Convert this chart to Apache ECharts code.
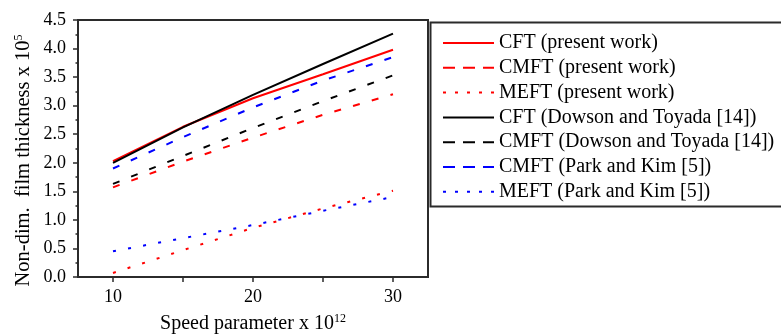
<!DOCTYPE html>
<html>
<head>
<meta charset="utf-8">
<script src="https://cdn.jsdelivr.net/npm/echarts@6/dist/echarts.min.js"></script>
<style>
html,body{margin:0;padding:0;background:#fff;}
#chart{width:781px;height:334px;}
</style>
</head>
<body>
<div id="chart"></div>
<script>
// ---- data ----
const speedValues = [10, 15, 20, 25, 30];
const cftPresent = [2.03, 2.63, 3.13, 3.55, 3.98];
const cmftPresent = [1.57, 2.02, 2.44, 2.84, 3.20];
const meftPresent = [0.07, 0.47, 0.86, 1.20, 1.51];
const cftDowson = [2.00, 2.62, 3.19, 3.73, 4.26];
const cmftDowson = [1.63, 2.12, 2.61, 3.08, 3.53];
const cmftPark = [1.90, 2.45, 2.97, 3.44, 3.85];
const meftPark = [0.45, 0.68, 0.91, 1.16, 1.40];
const seriesNames = [
  'CFT (present work)',
  'CMFT (present work)',
  'MEFT (present work)',
  'CFT (Dowson and Toyada [14])',
  'CMFT (Dowson and Toyada [14])',
  'CMFT (Park and Kim [5])',
  'MEFT (Park and Kim [5])'
];
const xTickValues = [10, 15, 20, 25, 30];
const xLabelValues = [10, 20, 30];

// ---- styles ----
const FONT = "'Liberation Serif', 'Times New Roman', serif";
const DASH = [7, 12.5];
const DOT = [3, 12.3];
const LEG_DASH = [12, 8];
const LEG_DOT = [3, 9];
const styles = [
  {color: '#ff0000', type: 'solid', leg: 'solid'},
  {color: '#ff0000', type: DASH, leg: LEG_DASH},
  {color: '#ff0000', type: DOT, leg: LEG_DOT},
  {color: '#000000', type: 'solid', leg: 'solid'},
  {color: '#000000', type: DASH, leg: LEG_DASH},
  {color: '#0000ff', type: DASH, leg: LEG_DASH},
  {color: '#0000ff', type: DOT, leg: LEG_DOT}
];
const values = [cftPresent, cmftPresent, meftPresent, cftDowson, cmftDowson, cmftPark, meftPark];

const pair = arr => speedValues.map((x, i) => [x, arr[i]]);

const chart = echarts.init(document.getElementById('chart'), null, {renderer: 'canvas'});
const axisColor = '#2b2b2b';
chart.setOption({
  animation: false,
  backgroundColor: '#fff',
  grid: {left: 78, right: 353, top: 20, bottom: 57, show: true, borderColor: axisColor, borderWidth: 2,
         backgroundColor: 'transparent', containLabel: false, outerBoundsMode: 'none'},
  graphic: [{
    type: 'rect', left: 428, top: 20, z: 100,
    shape: {width: 362, height: 184},
    style: {fill: 'none', stroke: axisColor, lineWidth: 2}
  }],
  xAxis: {
    type: 'value', min: 7.5, max: 32.5,
    name: '{a|Speed parameter x 10}{s|12}',
    nameLocation: 'middle', nameGap: 36,
    nameTextStyle: {
      rich: {
        a: {fontFamily: FONT, fontSize: 20, color: '#000', lineHeight: 22},
        s: {fontFamily: FONT, fontSize: 12, color: '#000', lineHeight: 22, verticalAlign: 'top', padding: [0, 0, 8, 0]}
      }
    },
    axisLine: {show: true, lineStyle: {color: axisColor, width: 2}},
    axisTick: {show: true, inside: false, length: 5, customValues: xTickValues, lineStyle: {color: axisColor, width: 1.5}},
    axisLabel: {customValues: xLabelValues, fontFamily: FONT, fontSize: 18, color: '#000', margin: 11},
    splitLine: {show: false}
  },
  yAxis: {
    type: 'value', min: 0, max: 4.5, interval: 0.5,
    name: '{a|Non-dim.  film thickness x 10}{s|5}',
    nameLocation: 'middle', nameGap: 43,
    nameRotate: 90,
    nameTextStyle: {
      rich: {
        a: {fontFamily: FONT, fontSize: 20.5, color: '#000', lineHeight: 22},
        s: {fontFamily: FONT, fontSize: 12, color: '#000', lineHeight: 22, verticalAlign: 'top', padding: [0, 24, 8, 0]}
      }
    },
    axisLine: {show: true, lineStyle: {color: axisColor, width: 2}},
    axisTick: {show: true, inside: false, length: 5, lineStyle: {color: axisColor, width: 1.5}},
    minorTick: {show: true, splitNumber: 2, length: 2.5, lineStyle: {color: axisColor, width: 1.5}},
    axisLabel: {fontFamily: FONT, fontSize: 18, color: '#000', margin: 12, formatter: v => v.toFixed(1)},
    splitLine: {show: false}
  },
  legend: {
    orient: 'vertical', left: 442, top: 33, padding: 0,
    itemWidth: 51, itemHeight: 14, itemGap: 4.8,
    selectedMode: false,
    itemStyle: {opacity: 0},
    textStyle: {fontFamily: FONT, fontSize: 20, lineHeight: 20, color: '#000'},
    data: seriesNames.map((n, i) => ({name: n, lineStyle: {type: styles[i].leg, width: 2, color: styles[i].color}}))
  },
  series: seriesNames.map((n, i) => ({
    name: n,
    type: 'line',
    data: pair(values[i]),
    symbol: 'none',
    lineStyle: {color: styles[i].color, width: 2, type: styles[i].type},
    itemStyle: {color: styles[i].color}
  }))
});
</script>
</body>
</html>
